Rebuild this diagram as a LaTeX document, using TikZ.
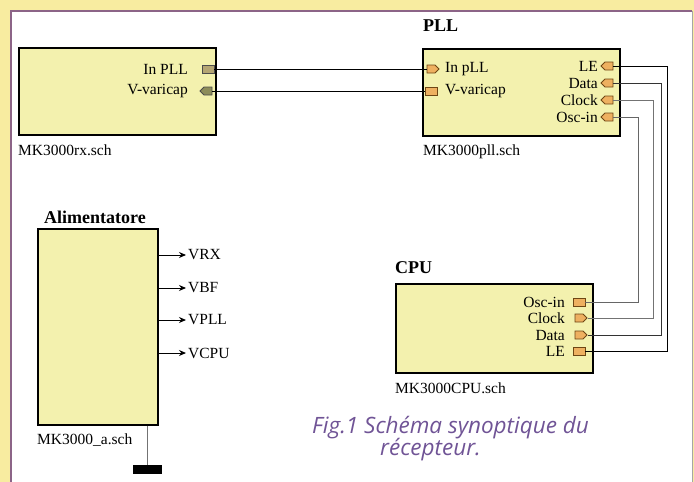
\documentclass[tikz,border=0pt]{standalone}
\usepackage{fontspec}
\setmainfont{Liberation Serif}
\newfontfamily\capfont{Open Sans}
\usetikzlibrary{positioning,shapes.symbols,arrows.meta}

\definecolor{pageyellow}{RGB}{248,236,160}
\definecolor{framepurple}{RGB}{140,100,135}
\definecolor{sheetfill}{RGB}{243,241,174}
\definecolor{portfill}{RGB}{238,176,96}
\definecolor{portline}{RGB}{110,70,20}
\definecolor{rxportA}{RGB}{180,165,115}
\definecolor{rxportB}{RGB}{140,140,90}
\definecolor{capviolet}{RGB}{112,84,150}

\begin{document}
\begin{tikzpicture}[x=1pt, y=-1pt,
  every node/.style={font=\fontsize{15.5}{17}\selectfont},
  sheet/.style={draw=black, line width=1.8pt, fill=sheetfill, anchor=north west, inner sep=0pt},
  sheettitle/.style={font=\fontsize{18}{20}\selectfont\bfseries, anchor=west, inner sep=0pt},
  sheetfile/.style={anchor=west, inner sep=0pt},
  portlabel/.style={inner sep=0pt},
  portsq/.style={draw=portline, fill=portfill, line width=0.9pt, minimum width=12pt, minimum height=8pt, inner sep=0pt},
  portin/.style={portsq, shape=signal, signal to=east},
  portout/.style={portsq, shape=signal, signal to=west},
  wire/.style={line width=1pt},
  capline/.style={font=\capfont\itshape\fontsize{22.5}{24}\selectfont, text=capviolet, anchor=west, inner sep=0pt}
]
  \useasboundingbox (0,0) rectangle (694,482);

  % Page and frame.
  \fill[pageyellow] (0,0) rectangle (694,482);
  \fill[white] (11,11) rectangle (692,482);
  \draw[framepurple, line width=2.5pt] (11,482) -- (11,11) -- (692,11);
  \draw[gray!70, line width=0.8pt] (692,11) -- (692,482);

  % Sheets.
  \node[sheet, minimum width=197pt, minimum height=87pt] (rx) at (18,47) {};
  \node[sheet, minimum width=197pt, minimum height=87pt] (pll) at (422,48) {};
  \node[sheet, minimum width=197pt, minimum height=89pt] (cpu) at (395,283) {};
  \node[sheet, minimum width=120pt, minimum height=196pt] (alim) at (37,228) {};

  \node[sheettitle] (plltitle) at (423,26) {PLL};
  \node[sheettitle] (cputitle) at (395,268) {CPU};
  \node[sheettitle] (alimtitle) at (44,217) {Alimentatore};

  \node[sheetfile] (rxfile) at (18,150) {MK3000rx.sch};
  \node[sheetfile] (pllfile) at (423,152) {MK3000pll.sch};
  \node[sheetfile] (cpufile) at (395,388) {MK3000CPU.sch};
  \node[sheetfile] (alimfile) at (37,440) {MK3000\_a.sch};

  % Receiver ports.
  \node[portsq, fill=rxportA, draw=black!70] (rxinpll) at (208,69) {};
  \node[portout, fill=rxportB, draw=black!70] (rxvar) at (208,91) {};
  \node[portlabel, anchor=east] (rxinplltxt) at (188,69) {In PLL};
  \node[portlabel, anchor=east] (rxvartxt) at (188,91) {V-varicap};

  % PLL ports.
  \node[portin] (pllinpll) at (431,69) {};
  \node[portsq] (pllvar) at (431,91) {};
  \node[portlabel, anchor=west] (pllinplltxt) at (445,69) {In pLL};
  \node[portlabel, anchor=west] (pllvartxt) at (445,91) {V-varicap};
  \foreach \n/\p/\y in {le/LE/66, data/Data/83, clk/Clock/100, osc/Osc-in/117}{
    \node[portout] (pll\n) at (609,\y) {};
    \node[portlabel, anchor=east] (pll\n txt) at (598,\y) {\p};
  }

  % CPU ports.
  \foreach \n/\p/\y/\s in {osc/Osc-in/302/portsq, clk/Clock/318/portin, data/Data/335/portin, le/LE/351/portsq}{
    \node[\s] (cpu\n) at (579,\y) {};
    \node[portlabel, anchor=east] (cpu\n txt) at (565,\y) {\p};
  }

  % Wires.
  \draw[wire] (rxinpll.east) -- (pllinpll.west);
  \draw[wire] (rxvar.east) -- (pllvar.west);
  \foreach \n/\x/\c in {le/667/black, data/661/black!80, clk/653/black!55, osc/638/black!60}{
    \coordinate (bus\n) at (\x,0);
    \draw[wire, \c] (pll\n.east) -- (pll\n.east -| bus\n) |- (cpu\n.east);
  }

  % Supply outputs.
  \foreach \n/\y in {VRX/255, VBF/288, VPLL/320, VCPU/353}{
    \node[portlabel, anchor=west] (\n) at (188,\y) {\n};
    \draw[wire, -{Stealth[length=7pt, width=6pt]}, shorten >=2pt] (alim.east |- \n.west) -- (\n.west);
  }

  % Ground.
  \node[fill=black, minimum width=29pt, minimum height=9pt, inner sep=0pt] (gnd) at (147.5,469.5) {};
  \draw[black!55, line width=0.9pt] (alim.south -| gnd.north) -- (gnd.north);

  % Caption.
  \node[capline] (cap1) at (312,428) {Fig.1 Schéma synoptique du};
  \node[capline] (cap2) at (380,450) {récepteur.};
\end{tikzpicture}
\end{document}
